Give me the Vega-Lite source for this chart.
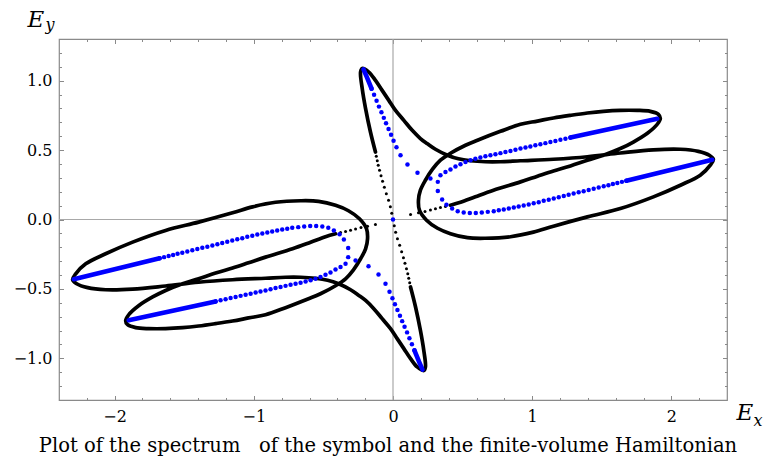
{
"$schema":"https://vega.github.io/schema/vega-lite/v6.json",
"width":668,"height":361,
"autosize":{"type":"none"},
"padding":{"left":59,"top":39,"right":43,"bottom":63},
"background":"white",
"config":{"view":{"stroke":"#8a8a8a","strokeWidth":1.2},
"axis":{"domain":false,"grid":false,"tickColor":"#8a8a8a","tickWidth":1,"labelFont":"DejaVu Serif","labelFontSize":16,"labelColor":"black","titleFont":"DejaVu Serif","titleFontStyle":"italic","titleFontWeight":"normal","titleColor":"black","titleFontSize":23,"titleAngle":0,"titleAlign":"left","titleBaseline":"alphabetic"}},
"title":{"text":"Plot of the spectrum \u00a0\u00a0of the symbol and the finite-volume Hamiltonian","orient":"bottom","frame":"group","anchor":"middle","dx":-5,"offset":9,"font":"DejaVu Serif","fontSize":19.5,"fontWeight":"normal","color":"black"},
"datasets":{
"blackLine":[
{"c":"u","i":1,"x":-0.126,"y":0.486},{"c":"u","i":2,"x":-0.162,"y":0.630},{"c":"u","i":3,"x":-0.197,"y":0.799},{"c":"u","i":4,"x":-0.221,"y":0.942},{"c":"u","i":5,"x":-0.233,"y":1.062},{"c":"u","i":6,"x":-0.221,"y":1.088},{"c":"u","i":7,"x":-0.174,"y":1.062},{"c":"u","i":8,"x":-0.126,"y":1.002},{"c":"u","i":9,"x":-0.078,"y":0.930},{"c":"u","i":10,"x":-0.030,"y":0.858},{"c":"u","i":11,"x":0.018,"y":0.786},{"c":"u","i":12,"x":0.078,"y":0.714},{"c":"u","i":13,"x":0.138,"y":0.642},{"c":"u","i":14,"x":0.197,"y":0.583},{"c":"u","i":15,"x":0.248,"y":0.545},{"c":"u","i":16,"x":0.305,"y":0.506},{"c":"u","i":17,"x":0.391,"y":0.463},{"c":"u","i":18,"x":0.470,"y":0.437},{"c":"u","i":19,"x":0.557,"y":0.423},{"c":"u","i":20,"x":0.664,"y":0.416},{"c":"u","i":21,"x":0.772,"y":0.416},{"c":"u","i":22,"x":0.916,"y":0.423},{"c":"u","i":23,"x":1.153,"y":0.434},{"c":"u","i":24,"x":1.397,"y":0.452},{"c":"u","i":25,"x":1.634,"y":0.479},{"c":"u","i":26,"x":1.871,"y":0.502},{"c":"u","i":27,"x":2.065,"y":0.506},{"c":"u","i":28,"x":2.194,"y":0.491},{"c":"u","i":29,"x":2.273,"y":0.463},{"c":"u","i":30,"x":2.302,"y":0.434},{"c":"u","i":31,"x":2.280,"y":0.391},{"c":"u","i":32,"x":2.208,"y":0.319},{"c":"u","i":33,"x":2.065,"y":0.247},{"c":"u","i":34,"x":1.871,"y":0.163},{"c":"u","i":35,"x":1.634,"y":0.079},{"c":"u","i":36,"x":1.397,"y":0.019},{"c":"u","i":37,"x":1.153,"y":-0.048},{"c":"u","i":38,"x":1.009,"y":-0.091},{"c":"u","i":39,"x":0.844,"y":-0.124},{"c":"u","i":40,"x":0.664,"y":-0.135},{"c":"u","i":41,"x":0.535,"y":-0.131},{"c":"u","i":42,"x":0.413,"y":-0.102},{"c":"u","i":43,"x":0.320,"y":-0.063},{"c":"u","i":44,"x":0.241,"y":-0.005},{"c":"u","i":45,"x":0.190,"y":0.067},{"c":"u","i":46,"x":0.183,"y":0.139},{"c":"u","i":47,"x":0.197,"y":0.211},{"c":"u","i":48,"x":0.233,"y":0.283},{"c":"u","i":49,"x":0.284,"y":0.362},{"c":"u","i":50,"x":0.341,"y":0.427},{"c":"u","i":51,"x":0.413,"y":0.477},{"c":"u","i":52,"x":0.521,"y":0.535},{"c":"u","i":53,"x":0.607,"y":0.571},{"c":"u","i":54,"x":0.772,"y":0.635},{"c":"u","i":55,"x":0.916,"y":0.686},{"c":"u","i":56,"x":1.038,"y":0.709},{"c":"u","i":57,"x":1.153,"y":0.731},{"c":"u","i":58,"x":1.275,"y":0.750},{"c":"u","i":59,"x":1.397,"y":0.767},{"c":"u","i":60,"x":1.512,"y":0.779},{"c":"u","i":61,"x":1.634,"y":0.786},{"c":"u","i":62,"x":1.756,"y":0.786},{"c":"u","i":63,"x":1.849,"y":0.779},{"c":"u","i":64,"x":1.907,"y":0.758},{"c":"u","i":65,"x":1.921,"y":0.729},{"c":"u","i":66,"x":1.899,"y":0.686},{"c":"u","i":67,"x":1.828,"y":0.621},{"c":"u","i":68,"x":1.727,"y":0.558},{"c":"u","i":69,"x":1.634,"y":0.511},{"c":"u","i":70,"x":1.512,"y":0.463},{"c":"u","i":71,"x":1.397,"y":0.427},{"c":"u","i":72,"x":1.275,"y":0.386},{"c":"u","i":73,"x":1.153,"y":0.350},{"c":"u","i":74,"x":1.038,"y":0.312},{"c":"u","i":75,"x":0.916,"y":0.271},{"c":"u","i":76,"x":0.722,"y":0.211},{"c":"u","i":77,"x":0.592,"y":0.164},{"c":"u","i":78,"x":0.485,"y":0.124},{"c":"u","i":79,"x":0.413,"y":0.103},
{"c":"l","i":1,"x":0.126,"y":-0.486},{"c":"l","i":2,"x":0.162,"y":-0.630},{"c":"l","i":3,"x":0.197,"y":-0.799},{"c":"l","i":4,"x":0.221,"y":-0.942},{"c":"l","i":5,"x":0.233,"y":-1.062},{"c":"l","i":6,"x":0.221,"y":-1.088},{"c":"l","i":7,"x":0.174,"y":-1.062},{"c":"l","i":8,"x":0.126,"y":-1.002},{"c":"l","i":9,"x":0.078,"y":-0.930},{"c":"l","i":10,"x":0.030,"y":-0.858},{"c":"l","i":11,"x":-0.018,"y":-0.786},{"c":"l","i":12,"x":-0.078,"y":-0.714},{"c":"l","i":13,"x":-0.138,"y":-0.642},{"c":"l","i":14,"x":-0.197,"y":-0.583},{"c":"l","i":15,"x":-0.248,"y":-0.545},{"c":"l","i":16,"x":-0.305,"y":-0.506},{"c":"l","i":17,"x":-0.391,"y":-0.463},{"c":"l","i":18,"x":-0.470,"y":-0.437},{"c":"l","i":19,"x":-0.557,"y":-0.423},{"c":"l","i":20,"x":-0.664,"y":-0.416},{"c":"l","i":21,"x":-0.772,"y":-0.416},{"c":"l","i":22,"x":-0.916,"y":-0.423},{"c":"l","i":23,"x":-1.153,"y":-0.434},{"c":"l","i":24,"x":-1.397,"y":-0.452},{"c":"l","i":25,"x":-1.634,"y":-0.479},{"c":"l","i":26,"x":-1.871,"y":-0.502},{"c":"l","i":27,"x":-2.065,"y":-0.506},{"c":"l","i":28,"x":-2.194,"y":-0.491},{"c":"l","i":29,"x":-2.273,"y":-0.463},{"c":"l","i":30,"x":-2.302,"y":-0.434},{"c":"l","i":31,"x":-2.280,"y":-0.391},{"c":"l","i":32,"x":-2.208,"y":-0.319},{"c":"l","i":33,"x":-2.065,"y":-0.247},{"c":"l","i":34,"x":-1.871,"y":-0.163},{"c":"l","i":35,"x":-1.634,"y":-0.079},{"c":"l","i":36,"x":-1.397,"y":-0.019},{"c":"l","i":37,"x":-1.153,"y":0.048},{"c":"l","i":38,"x":-1.009,"y":0.091},{"c":"l","i":39,"x":-0.844,"y":0.124},{"c":"l","i":40,"x":-0.664,"y":0.135},{"c":"l","i":41,"x":-0.535,"y":0.131},{"c":"l","i":42,"x":-0.413,"y":0.102},{"c":"l","i":43,"x":-0.320,"y":0.063},{"c":"l","i":44,"x":-0.241,"y":0.005},{"c":"l","i":45,"x":-0.190,"y":-0.067},{"c":"l","i":46,"x":-0.183,"y":-0.139},{"c":"l","i":47,"x":-0.197,"y":-0.211},{"c":"l","i":48,"x":-0.233,"y":-0.283},{"c":"l","i":49,"x":-0.284,"y":-0.362},{"c":"l","i":50,"x":-0.341,"y":-0.427},{"c":"l","i":51,"x":-0.413,"y":-0.477},{"c":"l","i":52,"x":-0.521,"y":-0.535},{"c":"l","i":53,"x":-0.607,"y":-0.571},{"c":"l","i":54,"x":-0.772,"y":-0.635},{"c":"l","i":55,"x":-0.916,"y":-0.686},{"c":"l","i":56,"x":-1.038,"y":-0.709},{"c":"l","i":57,"x":-1.153,"y":-0.731},{"c":"l","i":58,"x":-1.275,"y":-0.750},{"c":"l","i":59,"x":-1.397,"y":-0.767},{"c":"l","i":60,"x":-1.512,"y":-0.779},{"c":"l","i":61,"x":-1.634,"y":-0.786},{"c":"l","i":62,"x":-1.756,"y":-0.786},{"c":"l","i":63,"x":-1.849,"y":-0.779},{"c":"l","i":64,"x":-1.907,"y":-0.758},{"c":"l","i":65,"x":-1.921,"y":-0.729},{"c":"l","i":66,"x":-1.899,"y":-0.686},{"c":"l","i":67,"x":-1.828,"y":-0.621},{"c":"l","i":68,"x":-1.727,"y":-0.558},{"c":"l","i":69,"x":-1.634,"y":-0.511},{"c":"l","i":70,"x":-1.512,"y":-0.463},{"c":"l","i":71,"x":-1.397,"y":-0.427},{"c":"l","i":72,"x":-1.275,"y":-0.386},{"c":"l","i":73,"x":-1.153,"y":-0.350},{"c":"l","i":74,"x":-1.038,"y":-0.312},{"c":"l","i":75,"x":-0.916,"y":-0.271},{"c":"l","i":76,"x":-0.722,"y":-0.211},{"c":"l","i":77,"x":-0.592,"y":-0.164},{"c":"l","i":78,"x":-0.485,"y":-0.124},{"c":"l","i":79,"x":-0.413,"y":-0.103}
],
"blackDots":[
{"x":-0.120,"y":0.455},{"x":-0.113,"y":0.423},{"x":-0.106,"y":0.391},{"x":-0.097,"y":0.355},{"x":-0.086,"y":0.315},{"x":-0.075,"y":0.276},{"x":-0.062,"y":0.232},{"x":-0.048,"y":0.186},{"x":-0.032,"y":0.139},{"x":-0.019,"y":0.092},{"x":-0.009,"y":0.045},
{"x":0.377,"y":0.094},{"x":0.341,"y":0.086},{"x":0.305,"y":0.077},{"x":0.269,"y":0.068},{"x":0.230,"y":0.058},{"x":0.183,"y":0.048},{"x":0.126,"y":0.036},
{"x":0.120,"y":-0.455},{"x":0.113,"y":-0.423},{"x":0.106,"y":-0.391},{"x":0.097,"y":-0.355},{"x":0.086,"y":-0.315},{"x":0.075,"y":-0.276},{"x":0.062,"y":-0.232},{"x":0.048,"y":-0.186},{"x":0.032,"y":-0.139},{"x":0.019,"y":-0.092},{"x":0.009,"y":-0.045},
{"x":-0.377,"y":-0.094},{"x":-0.341,"y":-0.086},{"x":-0.305,"y":-0.077},{"x":-0.269,"y":-0.068},{"x":-0.230,"y":-0.058},{"x":-0.183,"y":-0.048},{"x":-0.126,"y":-0.036}
],
"blueLine":[
{"c":"t","i":1,"x":-0.212,"y":1.081},{"c":"t","i":2,"x":-0.187,"y":1.024},{"c":"t","i":3,"x":-0.154,"y":0.942},
{"c":"a","i":1,"x":1.275,"y":0.590},{"c":"a","i":2,"x":1.899,"y":0.725},
{"c":"b","i":1,"x":1.677,"y":0.279},{"c":"b","i":2,"x":2.294,"y":0.430},
{"c":"t2","i":1,"x":0.212,"y":-1.081},{"c":"t2","i":2,"x":0.187,"y":-1.024},{"c":"t2","i":3,"x":0.154,"y":-0.942},
{"c":"a2","i":1,"x":-1.275,"y":-0.590},{"c":"a2","i":2,"x":-1.899,"y":-0.725},
{"c":"b2","i":1,"x":-1.677,"y":-0.279},{"c":"b2","i":2,"x":-2.294,"y":-0.430}
],
"blueDots":[
{"x":0,"y":0},
{"x":-0.154,"y":0.942},{"x":-0.136,"y":0.898},{"x":-0.118,"y":0.855},{"x":-0.101,"y":0.813},{"x":-0.083,"y":0.772},{"x":-0.066,"y":0.732},{"x":-0.050,"y":0.693},{"x":-0.032,"y":0.652},{"x":-0.014,"y":0.610},{"x":0.004,"y":0.567},{"x":0.025,"y":0.520},{"x":0.054,"y":0.463},{"x":0.104,"y":0.396},{"x":0.176,"y":0.337},{"x":0.269,"y":0.295},
{"x":0.341,"y":0.319},{"x":0.377,"y":0.342},{"x":0.413,"y":0.360},{"x":0.449,"y":0.381},{"x":0.485,"y":0.398},{"x":0.521,"y":0.414},{"x":0.557,"y":0.427},{"x":0.592,"y":0.437},{"x":0.628,"y":0.446},{"x":0.664,"y":0.455},{"x":0.700,"y":0.463},{"x":0.736,"y":0.470},{"x":0.772,"y":0.478},{"x":0.808,"y":0.486},{"x":0.844,"y":0.494},{"x":0.880,"y":0.502},{"x":0.916,"y":0.511},{"x":0.952,"y":0.518},{"x":0.987,"y":0.526},{"x":1.023,"y":0.535},{"x":1.059,"y":0.542},{"x":1.095,"y":0.550},{"x":1.131,"y":0.558},{"x":1.167,"y":0.566},{"x":1.203,"y":0.574},{"x":1.239,"y":0.582},{"x":1.275,"y":0.590},
{"x":0.322,"y":0.271},{"x":0.322,"y":0.206},{"x":0.353,"y":0.144},{"x":0.384,"y":0.106},{"x":0.425,"y":0.079},{"x":0.465,"y":0.060},{"x":0.508,"y":0.050},{"x":0.552,"y":0.047},{"x":0.595,"y":0.047},{"x":0.638,"y":0.050},{"x":0.681,"y":0.055},{"x":0.724,"y":0.060},{"x":0.760,"y":0.067},{"x":0.796,"y":0.072},{"x":0.832,"y":0.079},{"x":0.868,"y":0.086},{"x":0.903,"y":0.094},{"x":0.939,"y":0.101},{"x":0.975,"y":0.108},{"x":1.011,"y":0.117},{"x":1.047,"y":0.125},{"x":1.083,"y":0.135},{"x":1.119,"y":0.143},{"x":1.155,"y":0.152},{"x":1.191,"y":0.160},{"x":1.227,"y":0.169},{"x":1.262,"y":0.178},{"x":1.298,"y":0.187},{"x":1.334,"y":0.196},{"x":1.370,"y":0.204},{"x":1.406,"y":0.213},{"x":1.442,"y":0.222},{"x":1.478,"y":0.231},{"x":1.514,"y":0.240},{"x":1.548,"y":0.247},{"x":1.580,"y":0.255},{"x":1.612,"y":0.263},{"x":1.645,"y":0.271},{"x":1.677,"y":0.279},
{"x":0.154,"y":-0.942},{"x":0.136,"y":-0.898},{"x":0.118,"y":-0.855},{"x":0.101,"y":-0.813},{"x":0.083,"y":-0.772},{"x":0.066,"y":-0.732},{"x":0.050,"y":-0.693},{"x":0.032,"y":-0.652},{"x":0.014,"y":-0.610},{"x":-0.004,"y":-0.567},{"x":-0.025,"y":-0.520},{"x":-0.054,"y":-0.463},{"x":-0.104,"y":-0.396},{"x":-0.176,"y":-0.337},{"x":-0.269,"y":-0.295},
{"x":-0.341,"y":-0.319},{"x":-0.377,"y":-0.342},{"x":-0.413,"y":-0.360},{"x":-0.449,"y":-0.381},{"x":-0.485,"y":-0.398},{"x":-0.521,"y":-0.414},{"x":-0.557,"y":-0.427},{"x":-0.592,"y":-0.437},{"x":-0.628,"y":-0.446},{"x":-0.664,"y":-0.455},{"x":-0.700,"y":-0.463},{"x":-0.736,"y":-0.470},{"x":-0.772,"y":-0.478},{"x":-0.808,"y":-0.486},{"x":-0.844,"y":-0.494},{"x":-0.880,"y":-0.502},{"x":-0.916,"y":-0.511},{"x":-0.952,"y":-0.518},{"x":-0.987,"y":-0.526},{"x":-1.023,"y":-0.535},{"x":-1.059,"y":-0.542},{"x":-1.095,"y":-0.550},{"x":-1.131,"y":-0.558},{"x":-1.167,"y":-0.566},{"x":-1.203,"y":-0.574},{"x":-1.239,"y":-0.582},{"x":-1.275,"y":-0.590},
{"x":-0.322,"y":-0.271},{"x":-0.322,"y":-0.206},{"x":-0.353,"y":-0.144},{"x":-0.384,"y":-0.106},{"x":-0.425,"y":-0.079},{"x":-0.465,"y":-0.060},{"x":-0.508,"y":-0.050},{"x":-0.552,"y":-0.047},{"x":-0.595,"y":-0.047},{"x":-0.638,"y":-0.050},{"x":-0.681,"y":-0.055},{"x":-0.724,"y":-0.060},{"x":-0.760,"y":-0.067},{"x":-0.796,"y":-0.072},{"x":-0.832,"y":-0.079},{"x":-0.868,"y":-0.086},{"x":-0.903,"y":-0.094},{"x":-0.939,"y":-0.101},{"x":-0.975,"y":-0.108},{"x":-1.011,"y":-0.117},{"x":-1.047,"y":-0.125},{"x":-1.083,"y":-0.135},{"x":-1.119,"y":-0.143},{"x":-1.155,"y":-0.152},{"x":-1.191,"y":-0.160},{"x":-1.227,"y":-0.169},{"x":-1.262,"y":-0.178},{"x":-1.298,"y":-0.187},{"x":-1.334,"y":-0.196},{"x":-1.370,"y":-0.204},{"x":-1.406,"y":-0.213},{"x":-1.442,"y":-0.222},{"x":-1.478,"y":-0.231},{"x":-1.514,"y":-0.240},{"x":-1.548,"y":-0.247},{"x":-1.580,"y":-0.255},{"x":-1.612,"y":-0.263},{"x":-1.645,"y":-0.271},{"x":-1.677,"y":-0.279}
]},
"resolve":{"axis":{"x":"independent","y":"independent"}},
"layer":[
{"data":{"values":[{"v":0}]},"mark":{"type":"rule","color":"#a8a8a8","strokeWidth":1.2},"encoding":{"y":{"datum":0,"type":"quantitative","scale":{"domain":[-1.3,1.3],"nice":false,"zero":false},"axis":null}}},
{"data":{"values":[{"v":0}]},"mark":{"type":"rule","color":"#a8a8a8","strokeWidth":1.2},"encoding":{"x":{"datum":0,"type":"quantitative","scale":{"domain":[-2.4,2.4],"nice":false,"zero":false},"axis":null}}},
{"data":{"name":"blackLine"},"mark":{"type":"line","color":"black","strokeWidth":3.7,"interpolate":"catmull-rom","strokeCap":"round","strokeJoin":"round"},
"encoding":{"x":{"field":"x","type":"quantitative","scale":{"domain":[-2.4,2.4],"nice":false,"zero":false},"axis":{"orient":"bottom","values":[-2,-1,0,1,2],"format":"d","tickSize":-4.5,"labelPadding":12.5,"title":"E","titleX":677,"titleY":19}},
"y":{"field":"y","type":"quantitative","scale":{"domain":[-1.3,1.3],"nice":false,"zero":false},"axis":{"orient":"left","values":[-1,-0.5,0,0.5,1],"format":".1f","tickSize":-4.5,"labelPadding":11.5,"title":"E","titleX":-32,"titleY":-13}},
"detail":{"field":"c"},"order":{"field":"i","type":"quantitative"}}},
{"data":{"name":"blackDots"},"mark":{"type":"circle","color":"black","size":9,"opacity":1},
"encoding":{"x":{"field":"x","type":"quantitative","axis":{"orient":"bottom","values":[-2.2,-1.8,-1.6,-1.4,-1.2,-0.8,-0.6,-0.4,-0.2,0.2,0.4,0.6,0.8,1.2,1.4,1.6,1.8,2.2],"labels":false,"tickSize":-2.5,"title":"x","titleFontSize":16,"titleX":694,"titleY":25}},
"y":{"field":"y","type":"quantitative","axis":{"orient":"left","values":[-1.2,-1.1,-0.9,-0.8,-0.7,-0.6,-0.4,-0.3,-0.2,-0.1,0.1,0.2,0.3,0.4,0.6,0.7,0.8,0.9,1.1,1.2],"labels":false,"tickSize":-2.5,"title":"y","titleFontSize":16,"titleX":-14,"titleY":-10}}}},
{"data":{"name":"blueLine"},"mark":{"type":"line","color":"#0000ff","strokeWidth":4.6,"strokeCap":"round"},
"encoding":{"x":{"field":"x","type":"quantitative","axis":{"orient":"top","values":[-2,-1,0,1,2],"labels":false,"tickSize":-4.5,"title":null}},
"y":{"field":"y","type":"quantitative","axis":{"orient":"right","values":[-1,-0.5,0,0.5,1],"labels":false,"tickSize":-4.5,"title":null}},
"detail":{"field":"c"},"order":{"field":"i","type":"quantitative"}}},
{"data":{"name":"blueDots"},"mark":{"type":"circle","color":"#0000ff","size":20,"opacity":1},
"encoding":{"x":{"field":"x","type":"quantitative","axis":{"orient":"top","values":[-2.2,-1.8,-1.6,-1.4,-1.2,-0.8,-0.6,-0.4,-0.2,0.2,0.4,0.6,0.8,1.2,1.4,1.6,1.8,2.2],"labels":false,"tickSize":-2.5,"title":null}},
"y":{"field":"y","type":"quantitative","axis":{"orient":"right","values":[-1.2,-1.1,-0.9,-0.8,-0.7,-0.6,-0.4,-0.3,-0.2,-0.1,0.1,0.2,0.3,0.4,0.6,0.7,0.8,0.9,1.1,1.2],"labels":false,"tickSize":-2.5,"title":null}}}}
]
}
